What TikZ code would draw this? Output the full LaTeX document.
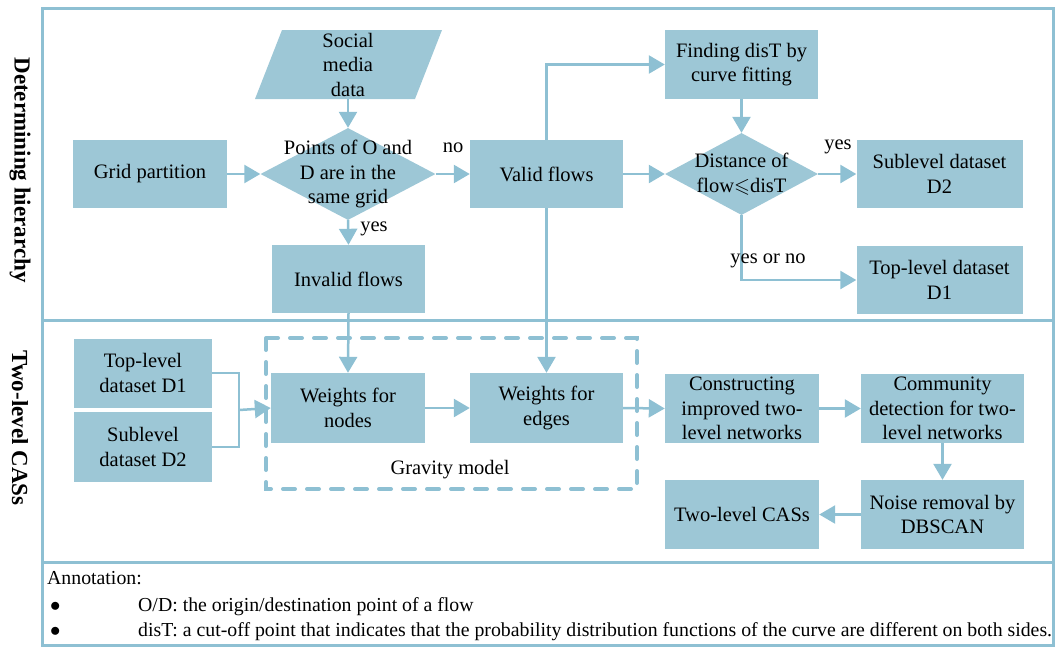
\documentclass[tikz,border=0pt]{standalone}
\usepackage{fontspec}
\usepackage{amssymb}
\setmainfont{Liberation Serif}
\usetikzlibrary{shapes.geometric,arrows.meta}
\definecolor{boxfill}{RGB}{157,199,214}
\definecolor{linec}{RGB}{142,192,211}
\tikzset{
  box/.style={rectangle, fill=boxfill, draw=none, inner sep=0pt, align=center,
    font=\fontsize{20.5}{24.5}\selectfont},
  dia/.style={diamond, fill=boxfill, draw=none, inner sep=0pt},
  txt/.style={inner sep=0pt, align=center, font=\fontsize{20.5}{24.5}\selectfont},
  lbl/.style={inner sep=0pt, font=\fontsize{20.5}{24.5}\selectfont},
  conn/.style={draw=linec, line width=2.5pt},
  arr/.style={conn, -{Triangle[length=16pt,width=18pt]}},
  frame/.style={draw=linec, line width=3pt},
  side/.style={inner sep=0pt, rotate=-90, font=\fontsize{23}{26}\selectfont\bfseries},
  note/.style={inner sep=0pt, anchor=base west, font=\fontsize{19.8}{22}\selectfont}
}
\begin{document}
\begin{tikzpicture}[x=1pt,y=-1pt]
\useasboundingbox (0,0) rectangle (1056,649);
% frame
\draw[frame] (42,8) rectangle (1053,645);
\draw[frame] (42,320) -- (1053,320);
\draw[frame] (42,562) -- (1053,562);
\node[side] (lab1) at (20,170) {Determining hierarchy};
\node[side] (lab2) at (20,428) {Two-level CASs};

% top section
\node[box, minimum width=154pt, minimum height=68pt] (grid) at (150,174) {Grid partition};
\fill[boxfill] (255,99) -- (282,30) -- (442,30) -- (415,99) -- cycle;
\node[txt, minimum height=69pt] (social) at (348,64.5) {Social\\media\\data};
\node[dia, minimum width=175pt, minimum height=92pt] (d1) at (348,174) {};
\node[txt] (d1t) at (d1) {Points of O and\\D are in the\\same grid};
\node[box, minimum width=153pt, minimum height=68pt] (invalid) at (348.5,279) {Invalid flows};
\node[box, minimum width=153pt, minimum height=68pt] (valid) at (546.5,174) {Valid flows};
\node[box, minimum width=153pt, minimum height=69pt] (find) at (741.5,64.5) {Finding disT by\\curve fitting};
\node[dia, minimum width=153pt, minimum height=82pt] (d2) at (741.5,174) {};
\node[txt] (d2t) at (d2) {Distance of\\flow$\leqslant$disT};
\node[box, minimum width=166pt, minimum height=68pt] (sub2) at (939.5,174) {Sublevel dataset\\D2};
\node[box, minimum width=166pt, minimum height=68pt] (top1) at (939.5,280) {Top-level dataset\\D1};

\draw[arr] (grid.east) -- (d1.west);
\draw[arr] (social.south) -- (d1.north);
\draw[arr] (d1.east) -- (valid.west);
\node[lbl] (no) at (453,148) {no};
\draw[arr] (d1.south) -- (invalid.north);
\node[lbl] (yes1) at (374,229) {yes};
\draw[arr] (valid.north) |- (find.west);
\draw[arr] (valid.east) -- (d2.west);
\draw[arr] (find.south) -- (d2.north);
\draw[arr] (d2.east) -- (sub2.west);
\node[lbl] (yes2) at (838,147) {yes};
\draw[arr] (d2.south) |- (top1.west);
\node[lbl] (yesno) at (768,261) {yes or no};

% bottom section
\node[box, minimum width=138pt, minimum height=69pt] (ld1) at (143,373) {Top-level\\dataset D1};
\node[box, minimum width=138pt, minimum height=70pt] (ld2) at (143,447) {Sublevel\\dataset D2};
\node[box, minimum width=154pt, minimum height=70pt] (wn) at (348,408) {Weights for\\nodes};
\node[box, minimum width=153pt, minimum height=70pt] (we) at (546.5,408) {Weights for\\edges};
\node[box, minimum width=154pt, minimum height=69pt] (cons) at (742,408.5) {Constructing\\improved two-\\level networks};
\node[box, minimum width=163pt, minimum height=69pt] (comm) at (942.5,408.5) {Community\\detection for two-\\level networks};
\node[box, minimum width=163pt, minimum height=69pt] (noise) at (942.5,514.5) {Noise removal by\\DBSCAN};
\node[box, minimum width=154pt, minimum height=69pt] (cas) at (742,514.5) {Two-level CASs};
\draw[draw=linec, line width=4pt, line cap=round, dash pattern=on 12pt off 12pt] (266,338) rectangle (637,489);
\node[lbl] (grav) at (450,470) {Gravity model};

\coordinate (br) at (239,410);
\draw[conn] (ld1.east) -| (br) |- (ld2.east);
\draw[arr] (br) -- (wn.west);
\draw[arr] (invalid.south) -- (wn.north);
\draw[arr] (valid.south) -- (we.north);
\draw[arr] (wn.east) -- (we.west);
\draw[arr] (we.east) -- (cons.west);
\draw[arr] (cons.east) -- (comm.west);
\draw[arr] (comm.south) -- (noise.north);
\draw[arr] (noise.west) -- (cas.east);

% annotation
\node[note] (ann) at (47,584) {Annotation:};
\node[note] (b1) at (50,611) {$\bullet$};
\node[note] (t1) at (138,611) {O/D: the origin/destination point of a flow};
\node[note] (b2) at (50,636) {$\bullet$};
\node[note] (t2) at (138,636) {disT: a cut-off point that indicates that the probability distribution functions of the curve are different on both sides.};
\end{tikzpicture}
\end{document}
